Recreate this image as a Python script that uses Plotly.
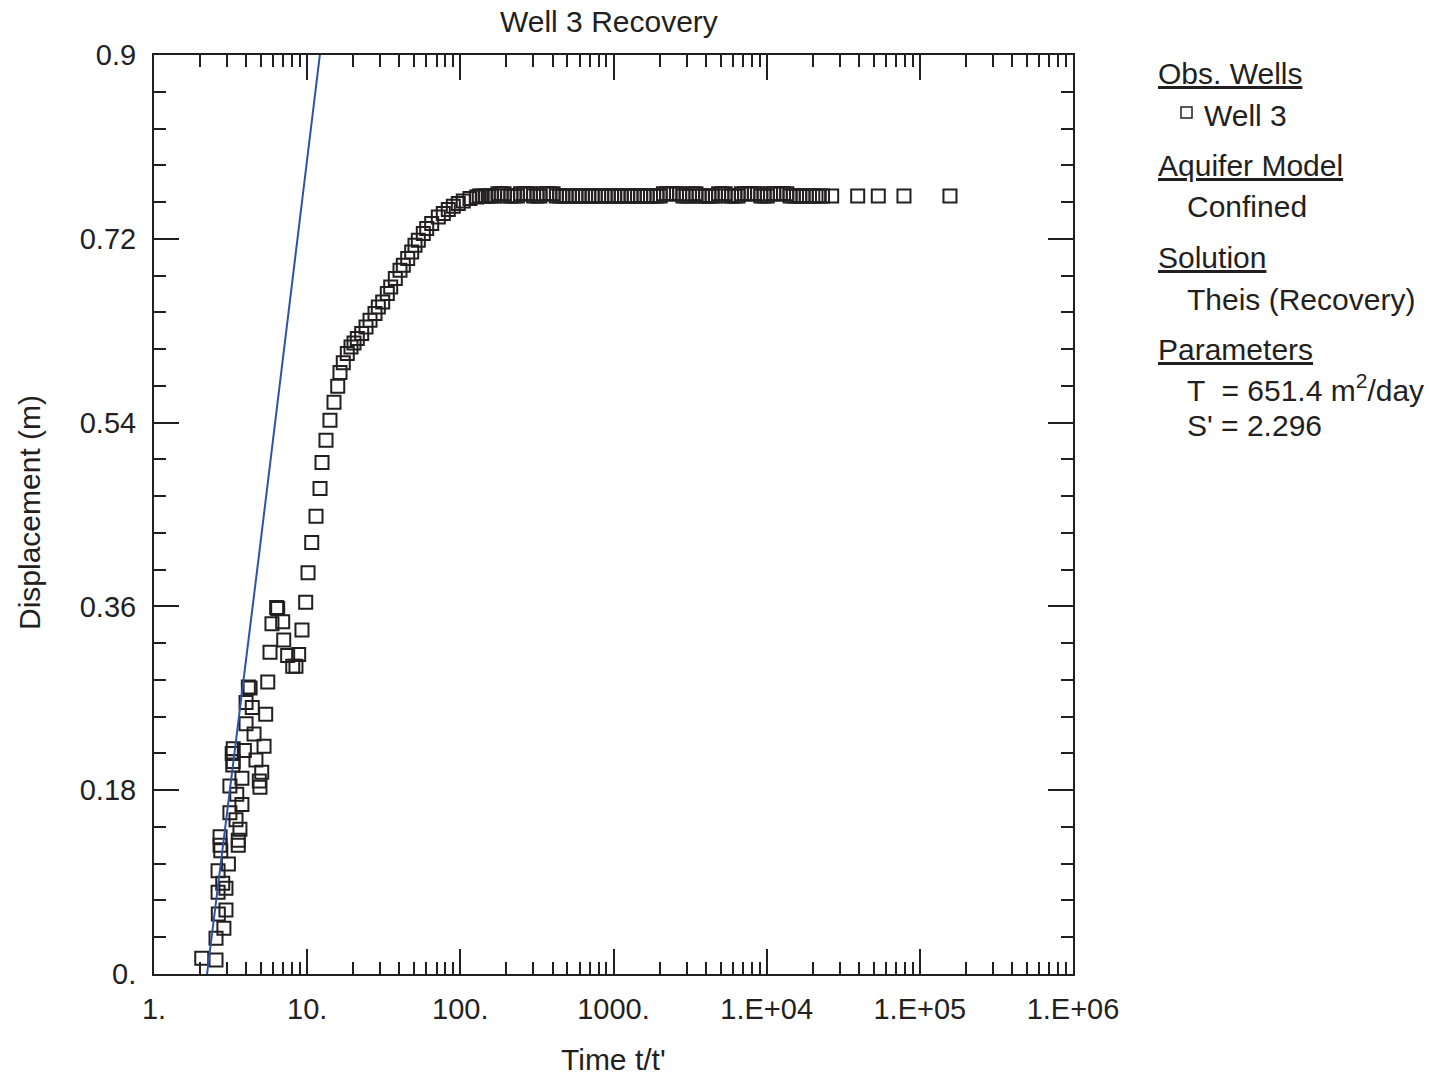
import plotly.graph_objects as go

# ---------------- data ----------------
early_t = [10.13, 9.78, 6.32, 6.42, 5.89, 6.92, 9.25, 7.03, 5.72, 7.46, 8.80, 8.05, 8.45,
           5.53, 4.13, 4.24, 3.99, 4.38, 5.36, 3.99, 4.50, 5.23, 3.29, 3.24, 3.89, 3.29,
           3.27, 4.63, 5.05, 4.87, 4.92, 3.13, 3.75, 3.47, 3.75, 3.13, 3.43, 3.64, 2.70,
           2.70, 2.73, 3.55, 3.55, 3.06, 2.62, 2.81, 2.95, 2.62, 2.95, 2.63, 2.86, 2.54,
           2.05, 2.54]
early_s = [0.393, 0.364, 0.359, 0.358, 0.343, 0.345, 0.337, 0.327, 0.315, 0.312, 0.313,
           0.3015, 0.3015, 0.286, 0.281, 0.280, 0.266, 0.261, 0.2545, 0.245, 0.235, 0.223,
           0.2206, 0.216, 0.219, 0.208, 0.2046, 0.2095, 0.1975, 0.189, 0.183, 0.184,
           0.1916, 0.176, 0.166, 0.158, 0.151, 0.1417, 0.1344, 0.126, 0.1207, 0.131,
           0.126, 0.1077, 0.101, 0.0888, 0.0839, 0.080, 0.0627, 0.0587, 0.0447, 0.035,
           0.0154, 0.0137]

curve_t = [10.71, 11.42, 12.13, 12.50, 13.27, 14.09, 14.97, 15.83, 16.38, 17.21, 18.28,
           19.33, 20.22, 21.25, 22.70, 24.22, 25.72, 27.72, 29.14, 31.12, 33.36, 35.11,
           37.63, 40.37, 42.43, 45.33, 48.13, 50.58, 53.17, 57.31, 60.31, 65.01, 71.81,
           77.42, 83.44, 89.99, 97.0, 104.5, 115.6, 127.9]
curve_s = [0.4226, 0.4484, 0.4755, 0.501, 0.5228, 0.5424, 0.560, 0.5757, 0.589, 0.5985,
           0.6077, 0.6141, 0.618, 0.6224, 0.6272, 0.6337, 0.6403, 0.6468, 0.6533, 0.6582,
           0.6664, 0.6729, 0.6811, 0.6892, 0.6941, 0.7007, 0.7071, 0.7137, 0.7186, 0.7251,
           0.730, 0.735, 0.7414, 0.7447, 0.7486, 0.7519, 0.7545, 0.757, 0.7594, 0.761]

flat_t = [133, 139, 146, 152, 160, 167, 176, 185, 193, 204, 214, 224, 236, 247, 260, 274,
          286, 301, 317, 331, 349, 366, 385, 403, 424, 446, 466, 491, 514, 541, 569, 595,
          627, 656, 690, 726, 760, 800, 838, 882, 924, 972, 1019, 1072, 1123, 1181, 1238,
          1302, 1365, 1435, 1505, 1582, 1659, 1744, 1829, 1923, 2017, 2120, 2224, 2337,
          2452, 2577, 2704, 2841, 2981, 3132, 3287, 3453, 3624, 3807, 3995, 4197, 4405,
          4627, 4856, 5101, 5354, 5624, 5903, 6200, 6508, 6835, 7175, 7536, 7911, 8309,
          8722, 9160, 9616, 10100, 10602, 11134, 11689, 12275, 12887, 13533, 14208, 14920,
          15664, 16449, 17269, 18135, 19039, 19993, 20991, 22042, 23143]
flat_s = [0.762, 0.762, 0.762, 0.762, 0.762, 0.762, 0.764, 0.764, 0.764, 0.762, 0.762,
          0.762, 0.762, 0.764, 0.764, 0.764, 0.764, 0.762, 0.762, 0.762, 0.764, 0.764,
          0.764, 0.764, 0.762, 0.762, 0.762, 0.762, 0.762, 0.762, 0.762, 0.762, 0.762,
          0.762, 0.762, 0.762, 0.762, 0.762, 0.762, 0.762, 0.762, 0.762, 0.762, 0.762,
          0.762, 0.762, 0.762, 0.762, 0.762, 0.762, 0.762, 0.762, 0.762, 0.762, 0.762,
          0.762, 0.762, 0.764, 0.764, 0.764, 0.764, 0.764, 0.764, 0.762, 0.762, 0.762,
          0.764, 0.764, 0.762, 0.762, 0.762, 0.762, 0.762, 0.762, 0.764, 0.764, 0.764,
          0.762, 0.762, 0.762, 0.762, 0.764, 0.764, 0.764, 0.764, 0.764, 0.764, 0.762,
          0.762, 0.762, 0.764, 0.764, 0.764, 0.764, 0.764, 0.764, 0.762, 0.762, 0.762,
          0.762, 0.762, 0.762, 0.762, 0.762, 0.762, 0.762, 0.762]

tail_t = [26580, 39290, 53540, 78780, 157300]
tail_s = [0.762, 0.762, 0.762, 0.762, 0.762]

fit_t = [2.22, 4.80, 12.1]
fit_s = [0.0, 0.405, 0.9]

x_major = [1, 10, 100, 1000, 1e4, 1e5, 1e6]
x_labels = ["1.", "10.", "100.", "1000.", "1.E+04", "1.E+05", "1.E+06"]
x_minor = [m * d for d in [1, 10, 100, 1000, 1e4, 1e5] for m in range(2, 10)]
y_major = [0, 0.18, 0.36, 0.54, 0.72, 0.9]
y_labels = ["0.", "0.18", "0.36", "0.54", "0.72", "0.9"]

obs_t = early_t + curve_t + flat_t + tail_t
obs_s = early_s + curve_s + flat_s + tail_s

# ---------------- figure ----------------
INK = "#231f20"
FONT = "Liberation Sans, Arial, sans-serif"
FS_TICK = 29
FS = 30

fig = go.Figure()
fig.add_trace(go.Scatter(
    x=obs_t, y=obs_s, mode="markers",
    marker=dict(symbol="square-open", size=13, color=INK, line=dict(width=2, color=INK)),
    showlegend=False, cliponaxis=True))
fig.add_trace(go.Scatter(
    x=fit_t, y=fit_s, mode="lines",
    line=dict(color="#2f52a8", width=2), showlegend=False))

axis_common = dict(
    showline=True, linecolor=INK, linewidth=2, mirror="ticks",
    ticks="inside", tickcolor=INK, tickwidth=2, ticklen=25,
    showgrid=False, zeroline=False,
    tickfont=dict(family=FONT, size=FS_TICK, color=INK),
)

fig.update_xaxes(
    type="log", range=[0, 6], tickmode="array", tickvals=x_major, ticktext=x_labels,
    ticklabelstandoff=8,
    minor=dict(tickmode="array", tickvals=x_minor, ticks="inside", ticklen=12,
               tickwidth=2, tickcolor=INK, showgrid=False),
    **axis_common)
fig.update_yaxes(
    range=[0, 0.9], tickmode="array", tickvals=y_major, ticktext=y_labels,
    ticklabelstandoff=10,
    minor=dict(dtick=0.036, tick0=0, ticks="inside", ticklen=12,
               tickwidth=2, tickcolor=INK, showgrid=False),
    **axis_common)

W, H = 1429, 1077
L, R, T, B = 154, 1073, 55, 974
fig.update_layout(
    width=W, height=H,
    margin=dict(l=L, r=W - R, t=T, b=H - B, pad=0),
    paper_bgcolor="white", plot_bgcolor="white",
    font=dict(family=FONT, size=FS, color=INK),
    showlegend=False,
)

def px_x(px):
    return (px - L) / (R - L)

def px_y(py):
    return (B - py) / (B - T)

annots = [
    dict(text="Well 3 Recovery", x=px_x(609), y=px_y(22)),
    dict(text="Time t/t'", x=px_x(613), y=px_y(1059)),
    dict(text="Displacement (m)", x=px_x(29), y=px_y(513), textangle=-90),
]
for a in annots:
    fig.add_annotation(xref="paper", yref="paper", xanchor="center", yanchor="middle",
                       showarrow=False, font=dict(family=FONT, size=FS, color=INK), **a)

legend_items = [
    ("<u>Obs. Wells</u>", 1156, 73),
    ("Well 3", 1202, 115),
    ("<u>Aquifer Model</u>", 1156, 165),
    ("Confined", 1185, 207),
    ("<u>Solution</u>", 1156, 257),
    ("Theis (Recovery)", 1185, 299),
    ("<u>Parameters</u>", 1156, 349),
    ("T  = 651.4 m<sup>2</sup>/day", 1185, 388),
    ("S' = 2.296", 1185, 425),
]
for txt, x, y in legend_items:
    fig.add_annotation(xref="paper", yref="paper", x=px_x(x), y=px_y(y),
                       xanchor="left", yanchor="middle", showarrow=False, text=txt,
                       font=dict(family=FONT, size=FS, color=INK))

# legend marker symbol
fig.add_shape(type="rect", xref="paper", yref="paper",
              x0=px_x(1181), x1=px_x(1192), y0=px_y(118), y1=px_y(107),
              line=dict(color=INK, width=1.5), fillcolor="rgba(0,0,0,0)")

fig.write_html("out.html")
